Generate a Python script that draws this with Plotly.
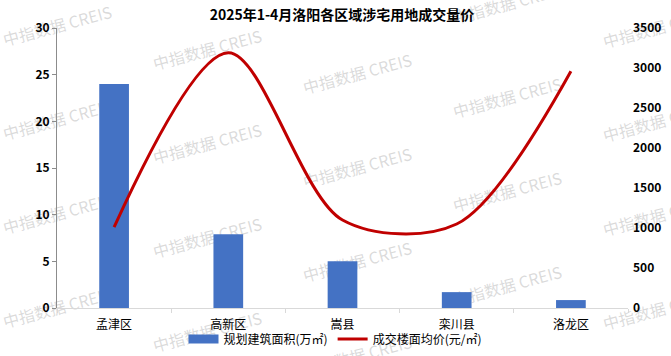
import plotly.graph_objects as go

categories = ["孟津区", "高新区", "嵩县", "栾川县", "洛龙区"]
area_values = [24.0, 7.9, 5.0, 1.7, 0.85]          # 规划建筑面积(万㎡)
price_values = [1010, 3190, 1100, 1050, 2960]      # 成交楼面均价(元/㎡)
left_ticks = [0, 5, 10, 15, 20, 25, 30]
right_ticks = [0, 500, 1000, 1500, 2000, 2500, 3000, 3500]
title_text = "2025年1-4月洛阳各区域涉宅用地成交量价"
bar_name = "规划建筑面积(万㎡)"
line_name = "成交楼面均价(元/㎡)"
watermark = "中指数据 CREIS"

W, H = 671, 356
L, R, T, B = 57, 628, 28, 308

BAR_COLOR = "#4472C4"
LINE_COLOR = "#C00000"
FONT = "Noto Sans CJK SC"

fig = go.Figure()
fig.add_trace(go.Bar(x=categories, y=area_values, name=bar_name, marker_color=BAR_COLOR,
                     width=0.26, showlegend=False, yaxis="y"))
# legend proxy for the bar series (Excel style wide swatch)
fig.add_trace(go.Scatter(x=[None], y=[None], mode="lines", name=bar_name,
                         line=dict(color=BAR_COLOR, width=9), yaxis="y"))
fig.add_trace(go.Scatter(x=categories, y=price_values, name=line_name, mode="lines",
                         line=dict(color=LINE_COLOR, width=3, shape="spline", smoothing=0.9),
                         yaxis="y2"))

def px_to_paper(px, py):
    return (px - L) / (R - L), (B - py) / (B - T)

shapes = []
for k, cx in enumerate([58, 208, 358, 508, 658]):
    y0 = 28 + 24 * k
    for r in range(-1, 4):
        cy = y0 + 94 * r
        if cy < -20 or cy > 380:
            continue
        xp, yp = px_to_paper(cx, cy)
        dx, dy = 55 / (R - L), 15 / (B - T)
        shapes.append(dict(type="rect", xref="paper", yref="paper",
                           x0=xp - dx, x1=xp + dx, y0=yp - dy, y1=yp + dy,
                           line=dict(width=0), fillcolor="rgba(0,0,0,0)", layer="below",
                           label=dict(text=watermark, textangle=-15, textposition="middle center",
                                      font=dict(family=FONT, size=16, color="rgba(150,150,150,0.35)"))))

fig.update_layout(
    template="none",
    width=W, height=H,
    margin=dict(l=L, r=W - R, t=T, b=H - B, pad=0),
    paper_bgcolor="white", plot_bgcolor="rgba(0,0,0,0)",
    font=dict(family=FONT, color="black"),
    title=dict(text=title_text, x=342 / W, xref="container", xanchor="center",
               y=1 - 15 / H, yref="container", yanchor="middle",
               font=dict(family=FONT, size=14, color="black", weight="bold")),
    xaxis=dict(type="category", automargin=False, showgrid=False, showline=True,
               linecolor="#D9D9D9", linewidth=1,
               ticks="outside", tickson="boundaries", ticklen=4, tickcolor="#D9D9D9",
               ticklabelstandoff=6,
               tickfont=dict(family=FONT, size=12, color="black"), zeroline=False),
    yaxis=dict(range=[0, 30], tickvals=left_ticks, automargin=False, showgrid=False, showline=True,
               linecolor="#8C8C8C", linewidth=1, ticks="outside", ticklen=4, tickcolor="#8C8C8C",
               tickfont=dict(family=FONT, size=12, color="black", weight="bold"), zeroline=False),
    yaxis2=dict(range=[0, 3500], tickvals=right_ticks, overlaying="y", side="right",
                automargin=False, showgrid=False, showline=False, ticks="", zeroline=False,
                ticklabelstandoff=4,
                tickfont=dict(family=FONT, size=12, color="black", weight="bold")),
    legend=dict(orientation="h", x=335 / W, xref="container", xanchor="center",
                y=1 - 339 / H, yref="container", yanchor="middle",
                font=dict(family=FONT, size=12, color="black"), bgcolor="rgba(0,0,0,0)",
                itemwidth=30, tracegroupgap=0),
    shapes=shapes,
    bargap=0.74,
)

fig.write_html("out.html", config={"displayModeBar": False},
               post_script="document.body.style.margin='0';document.body.style.padding='0';")
